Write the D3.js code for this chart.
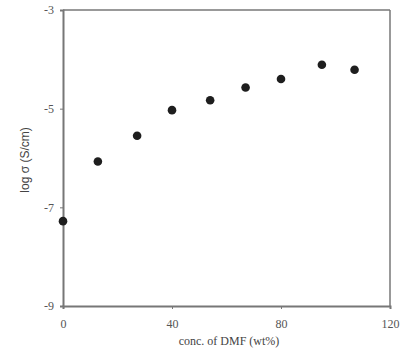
<!DOCTYPE html>
<html>
<head>
<meta charset="utf-8">
<script src="https://cdn.jsdelivr.net/npm/d3@7"></script>
<style>
  body { margin: 0; background: #fff; }
  svg { display: block; }
</style>
</head>
<body>
<svg id="chart" width="414" height="351"></svg>
<script>
// values
var concDMF = [0, 12.8, 27.2, 40, 54, 67, 80, 95, 107];
var logSigma = [-7.28, -6.07, -5.55, -5.03, -4.83, -4.57, -4.40, -4.11, -4.21];
var xTicks = [0, 40, 80, 120];
var yTicks = [-9, -7, -5, -3];

var svg = d3.select("#chart");
var margin = { top: 10, right: 24, bottom: 45, left: 63 };
var width = 414 - margin.left - margin.right;
var height = 351 - margin.top - margin.bottom;

var x = d3.scaleLinear().domain([0, 120]).range([0, width]);
var y = d3.scaleLinear().domain([-9, -3]).range([height, 0]);

var g = svg.append("g").attr("transform", `translate(${margin.left},${margin.top})`);

// frame (top + right)
g.append("line").attr("x1", 0).attr("x2", width).attr("y1", 0).attr("y2", 0)
    .attr("stroke", "#777").attr("stroke-width", 1.5);
g.append("line").attr("x1", width).attr("x2", width).attr("y1", 0).attr("y2", height)
    .attr("stroke", "#777").attr("stroke-width", 1.5);

var xAxis = g.append("g")
    .attr("transform", `translate(0,${height})`)
    .call(d3.axisBottom(x).tickValues(xTicks).tickSize(3).tickPadding(10).tickFormat(d3.format("d")));
var yAxis = g.append("g")
    .call(d3.axisLeft(y).tickValues(yTicks).tickSize(3).tickPadding(6).tickFormat(d => d < 0 ? "-" + Math.abs(d) : d));

[xAxis, yAxis].forEach(function(a) {
    a.select(".domain").attr("stroke", "#777").attr("stroke-width", 2);
    a.selectAll(".tick line").attr("stroke", "#777");
    a.selectAll(".tick text")
        .attr("fill", "#555")
        .style("font-family", "Liberation Serif, serif")
        .style("font-size", "12px");
});

// points
g.selectAll("circle")
    .data(concDMF)
    .enter()
    .append("circle")
    .attr("cx", d => x(d))
    .attr("cy", (d, i) => y(logSigma[i]))
    .attr("r", 4.3)
    .attr("fill", "#1e1e1e");

// axis titles
svg.append("text")
    .attr("x", 229)
    .attr("y", 345)
    .attr("text-anchor", "middle")
    .attr("fill", "#444")
    .style("font-family", "Liberation Serif, serif")
    .style("font-size", "12px")
    .text("conc. of DMF (wt%)");

svg.append("text")
    .attr("transform", "translate(29,160) rotate(-90)")
    .attr("text-anchor", "middle")
    .attr("fill", "#444")
    .style("font-family", "Liberation Sans, Arial, sans-serif")
    .style("font-size", "12px")
    .text("log σ (S/cm)");
</script>
</body>
</html>
